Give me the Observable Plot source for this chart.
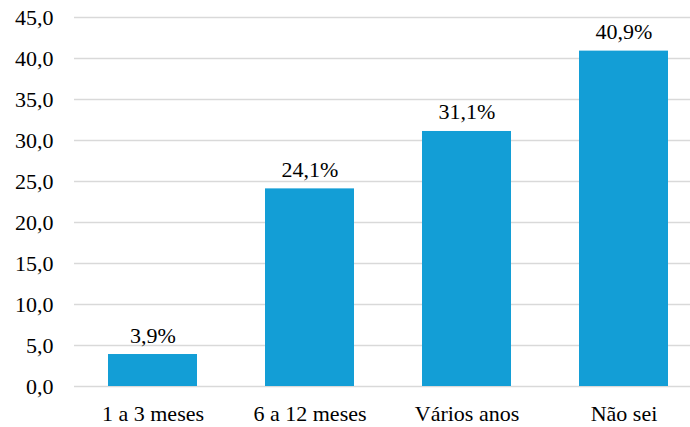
<!DOCTYPE html>
<html>
<head>
<meta charset="utf-8">
<script src="https://cdn.jsdelivr.net/npm/d3@7"></script>
<script src="https://cdn.jsdelivr.net/npm/@observablehq/plot@0.6"></script>
<style>
  html, body { margin: 0; padding: 0; background: #fff; }
  #chart svg { display: block; }
  #chart svg, #chart svg text { font-family: "Liberation Serif", "Times New Roman", serif !important; }
</style>
</head>
<body>
<div id="chart"></div>
<script>
// Tempo de espera: categorias e percentuais
const categories = ["1 a 3 meses", "6 a 12 meses", "Vários anos", "Não sei"];
const values = [3.9, 24.1, 31.1, 40.9];
const yTicks = [0, 5, 10, 15, 20, 25, 30, 35, 40, 45];

const data = categories.map((c, i) => ({ category: c, value: values[i] }));
const comma = (v, digits) => v.toFixed(digits).replace(".", ",");
const serif = "'Liberation Serif', 'Times New Roman', serif";
const fs = 22;

const chart = Plot.plot({
  width: 690,
  height: 427,
  marginTop: 17,
  marginBottom: 41,
  marginLeft: 74,
  marginRight: 0,
  style: { fontFamily: serif, fontSize: fs + "px", color: "#000", background: "#fff" },
  x: { domain: categories, range: [74, 702], paddingInner: 0.43, paddingOuter: 0.215, label: null },
  y: { domain: [0, 45], label: null },
  marks: [
    Plot.ruleY(yTicks, { stroke: "#d9d9d9", strokeWidth: 1.3 }),
    Plot.barY(data, { x: "category", y: "value", fill: "#139ed6" }),
    Plot.text(data, {
      x: "category", y: "value", text: d => comma(d.value, 1) + "%",
      lineAnchor: "bottom", dy: -12, fill: "#000", fontSize: fs, fontFamily: serif
    }),
    Plot.axisY(yTicks, { tickSize: 0, tickPadding: 21, tickFormat: d => comma(d, 1), fontSize: fs, fontFamily: serif }),
    Plot.axisX({ tickSize: 0, tickPadding: 19, fontSize: fs, fontFamily: serif })
  ]
});

document.getElementById("chart").appendChild(chart);
</script>
</body>
</html>
